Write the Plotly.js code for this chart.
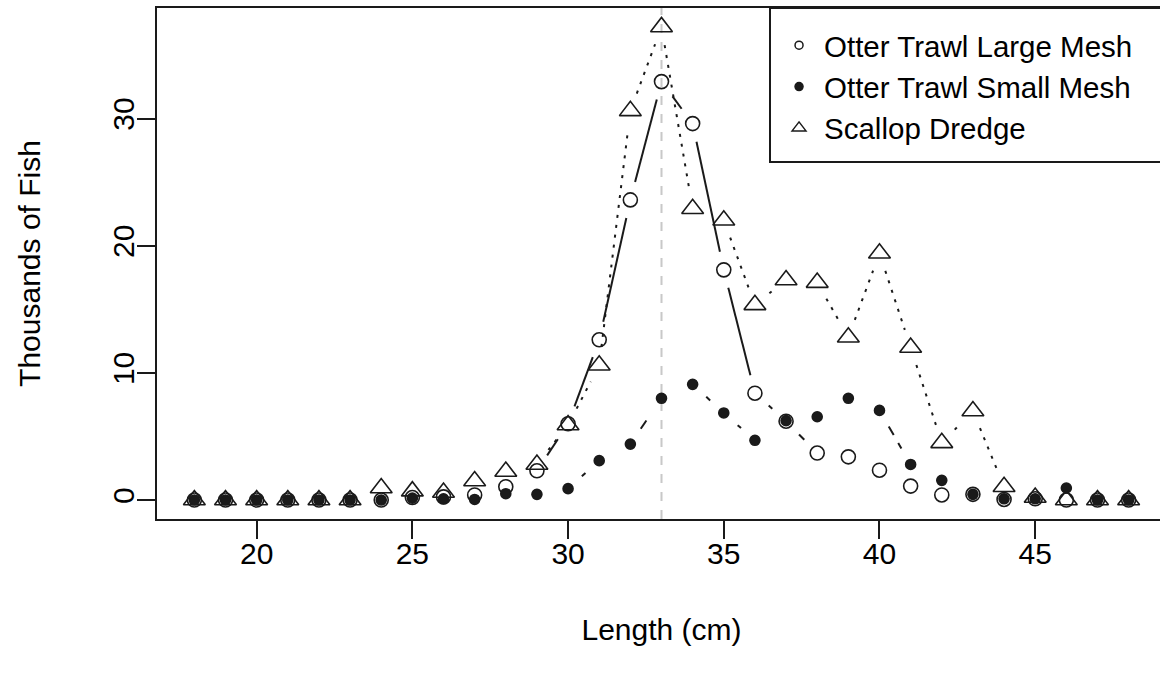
<!DOCTYPE html>
<html><head><meta charset="utf-8">
<script src="https://cdn.plot.ly/plotly-3.0.1.min.js"></script>
<style>html,body{margin:0;padding:0;overflow:hidden;background:#fff}#chart{width:1167px;height:679px}</style>
</head><body><div id="chart"></div>
<script>
// ---- data ----
const lengthsCm = [18,19,20,21,22,23,24,25,26,27,28,29,30,31,32,33,34,35,36,37,38,39,40,41,42,43,44,45,46,47,48];
const largeMesh = [0,0,0,0,0,0,0,0.2,0.25,0.4,1.05,2.3,6.0,12.6,23.6,32.9,29.6,18.1,8.4,6.2,3.7,3.4,2.35,1.1,0.4,0.45,0.05,0.1,0,0,0];
const smallMesh = [0,0,0,0,0,0,0,0.15,0.1,0.05,0.5,0.45,0.9,3.1,4.4,8.0,9.1,6.85,4.7,6.25,6.55,8.0,7.05,2.8,1.55,0.45,0.1,0.1,0.95,0,0];
const scallopDredge = [0,0,0,0,0,0,0.95,0.7,0.6,1.5,2.25,2.8,5.9,10.6,30.6,37.2,22.9,22.0,15.35,17.3,17.1,12.8,19.4,12.0,4.5,7.0,1.05,0.2,0,0,0];
const seriesNames = ["Otter Trawl Large Mesh","Otter Trawl Small Mesh","Scallop Dredge"];
const modeLength = 33;
const xTickVals = [20,25,30,35,40,45];
const yTickVals = [0,10,20,30];
const xTitle = "Length (cm)";
const yTitle = "Thousands of Fish";

// ---- layout geometry ----
const W = 1167, H = 679;
const M = {l:157, r:1, t:8, b:160, pad:0};
const FONT = "'Liberation Sans', Arial, sans-serif";
const FS = 30;
const INK = '#1a1a1a';

// R-style 4% axis extension computed from the data
const xmin = Math.min(...lengthsCm), xmax = Math.max(...lengthsCm);
const allY = largeMesh.concat(smallMesh, scallopDredge);
const ymin = Math.min(...allY), ymax = Math.max(...allY);
const xr = [xmin - 0.04*(xmax-xmin), xmax + 0.04*(xmax-xmin)];
const yr = [ymin - 0.04*(ymax-ymin), ymax + 0.04*(ymax-ymin)];

const kx = (W - M.l - M.r) / (xr[1]-xr[0]);
const ky = (H - M.t - M.b) / (yr[1]-yr[0]);
const GAP = 18.5; // px gap around each point (R type="b")

function gapped(xs, ys) {
  const gx = [], gy = [];
  for (let i = 0; i < xs.length-1; i++) {
    const dxp = (xs[i+1]-xs[i])*kx, dyp = (ys[i+1]-ys[i])*ky;
    const L = Math.hypot(dxp, dyp);
    if (L <= 2*GAP) continue;
    const f = GAP / L;
    gx.push(xs[i] + f*(xs[i+1]-xs[i]), xs[i+1] - f*(xs[i+1]-xs[i]), null);
    gy.push(ys[i] + f*(ys[i+1]-ys[i]), ys[i+1] - f*(ys[i+1]-ys[i]), null);
  }
  return {x: gx, y: gy};
}

const series = [largeMesh, smallMesh, scallopDredge];
const dashes = ['solid', '10px,9px', '3px,7px'];
const symbols = ['circle-open', 'circle', 'triangle-up-open'];
const sizes = [14, 10, 19];
const legendSizes = [8, 8, 12];

const traces = [];
series.forEach((ys, i) => {
  const g = gapped(lengthsCm, ys);
  traces.push({x: g.x, y: g.y, mode: 'lines', type: 'scatter', showlegend: false,
    hoverinfo: 'skip', line: {color: INK, width: 2, dash: dashes[i]}});
});
series.forEach((ys, i) => {
  traces.push({x: lengthsCm, y: ys, mode: 'markers', type: 'scatter', showlegend: false,
    name: seriesNames[i],
    marker: {symbol: symbols[i], size: sizes[i], color: INK, line: {color: INK, width: 1.6}}});
});
series.forEach((ys, i) => {
  traces.push({x: [null], y: [null], mode: 'markers', type: 'scatter', showlegend: true,
    name: seriesNames[i],
    marker: {symbol: symbols[i], size: legendSizes[i], color: INK, line: {color: INK, width: 1.5}}});
});

const plotW = W - M.l - M.r, plotH = H - M.t - M.b;
const boxLeftPx = 770 - M.l, boxBottomPx = 519 - 162;

const layout = {
  width: W, height: H, margin: M,
  paper_bgcolor: '#fff', plot_bgcolor: '#fff',
  font: {family: FONT, size: FS, color: '#000'},
  showlegend: true,
  legend: {x: boxLeftPx/plotW + 0.004, xanchor: 'left', y: (boxBottomPx + 154/2 - 2)/plotH, yanchor: 'middle',
    bgcolor: 'rgba(0,0,0,0)', borderwidth: 0, font: {family: FONT, size: 29.5, color: '#000'},
    itemwidth: 40, tracegroupgap: 0},
  xaxis: {range: xr, tickmode: 'array', tickvals: xTickVals, ticks: 'outside', ticklen: 18, tickwidth: 2,
    tickcolor: INK, showline: true, linecolor: INK, linewidth: 2, mirror: true, showgrid: false, zeroline: false,
    tickfont: {family: FONT, size: FS, color: '#000'}, ticklabelstandoff: -11,
    title: {text: xTitle, font: {family: FONT, size: FS, color: '#000'}, standoff: 50}},
  yaxis: {range: yr, tickmode: 'array', tickvals: yTickVals, ticks: 'outside', ticklen: 18, tickwidth: 2,
    tickcolor: INK, showline: true, linecolor: INK, linewidth: 2, mirror: true, showgrid: false, zeroline: false,
    tickangle: -90, tickfont: {family: FONT, size: FS, color: '#000'}, ticklabelstandoff: -9,
    title: {text: yTitle, font: {family: FONT, size: FS, color: '#000'}, standoff: 58}},
  shapes: [
    {type: 'line', xref: 'x', yref: 'paper', x0: modeLength, x1: modeLength, y0: 0, y1: 1, layer: 'below',
     line: {color: '#c8c8c8', width: 2, dash: '9px,9px'}},
    {type: 'rect', xref: 'paper', yref: 'paper', x0: boxLeftPx/plotW, x1: 1.02, y0: boxBottomPx/plotH, y1: 1,
     layer: 'above', fillcolor: 'rgba(255,255,255,0)', line: {color: INK, width: 2}}
  ],
  hovermode: false
};

Plotly.newPlot('chart', traces, layout, {displayModeBar: false, staticPlot: true});
</script>
</body></html>
